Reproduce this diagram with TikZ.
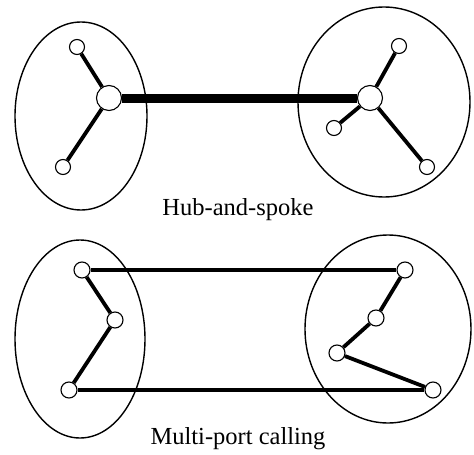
\documentclass[tikz,border=0pt]{standalone}
\usepackage{fontspec}
\setmainfont{Liberation Serif}
\begin{document}
\begin{tikzpicture}[x=1pt,y=-1pt,
  dot/.style={circle,draw,fill=white,line width=1.1pt,minimum size=15pt,inner sep=0pt},
  bigdot/.style={dot,minimum size=16pt},
  hub/.style={dot,minimum size=25pt},
  region/.style={draw,line width=1.4pt},
  link/.style={line width=3.8pt},
  trunk/.style={line width=9pt},
  caption/.style={font=\fontsize{24.5}{28}\selectfont,anchor=base,inner sep=0pt}]
\useasboundingbox (0,0) rectangle (474,455);

% domains
\draw[region] (81,116) ellipse [x radius=66pt, y radius=94pt];
\draw[region] (384,102) ellipse [x radius=86pt, y radius=95pt];
\draw[region] (80,339) ellipse [x radius=65pt, y radius=99pt];
\draw[region] (388,329) ellipse [x radius=83pt, y radius=94pt];

% hub-and-spoke
\node[hub] (lh) at (109,98) {};
\node[dot] (l1) at (77,47) {};
\node[dot] (l2) at (63,167) {};
\node[hub] (rh) at (370,98) {};
\node[dot] (r1) at (399,46) {};
\node[dot] (r2) at (334,128) {};
\node[dot] (r3) at (427,167) {};
\draw[link] (lh) -- (l1);
\draw[link] (lh) -- (l2);
\draw[link] (rh) -- (r1);
\draw[link] (rh) -- (r2);
\draw[link] (rh) -- (r3);
\draw[trunk] (lh) -- (rh);
\node[caption] (cap1) at (238,215) {Hub-and-spoke};

% multi-port calling
\node[bigdot] (la) at (82,270) {};
\node[bigdot] (lb) at (115,320) {};
\node[bigdot] (lc) at (69,390) {};
\node[bigdot] (ra) at (405,270) {};
\node[bigdot] (rb) at (376,318) {};
\node[bigdot] (rc) at (337,353) {};
\node[bigdot] (rd) at (433,390) {};
\draw[link] (la) -- (lb);
\draw[link] (lb) -- (lc);
\draw[link] (la) -- (ra);
\draw[link] (lc) -- (rd);
\draw[link] (ra) -- (rb);
\draw[link] (rb) -- (rc);
\draw[link] (rc) -- (rd);
\node[caption] (cap2) at (238,444) {Multi-port calling};
\end{tikzpicture}
\end{document}
